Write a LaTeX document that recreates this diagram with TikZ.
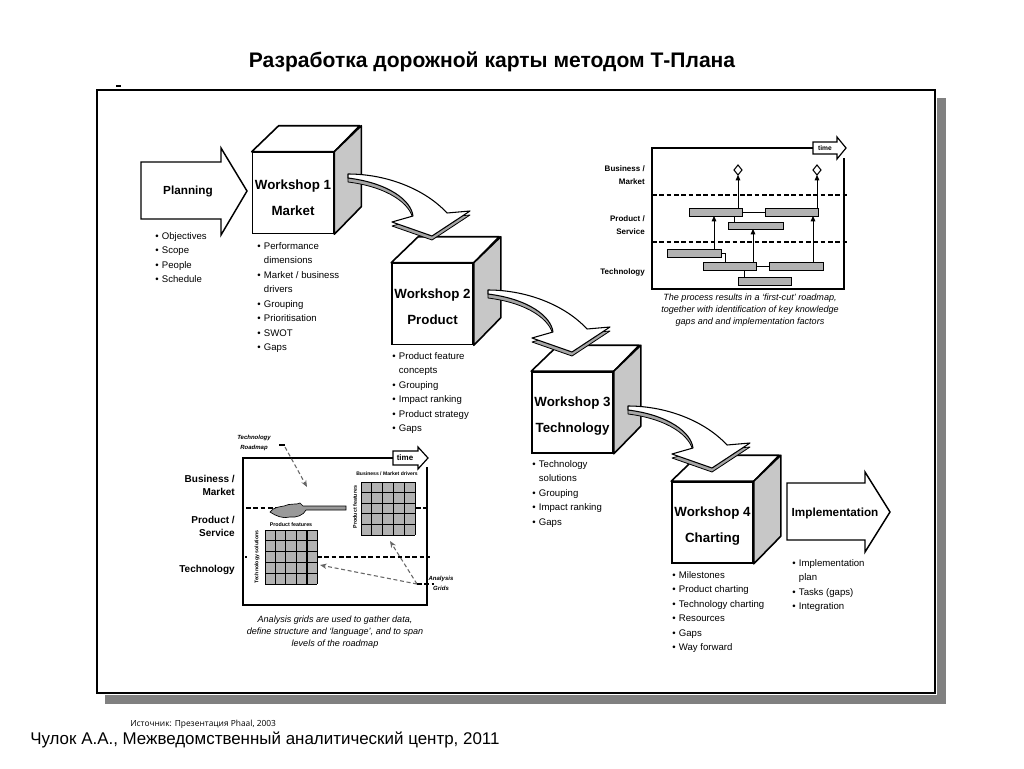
\documentclass[tikz,border=0pt]{standalone}
\usepackage{fontspec}
\setmainfont{Liberation Sans}
\newfontfamily\srcfont{Open Sans}
\usetikzlibrary{arrows.meta}
\colorlet{sidegray}{black!22}
\colorlet{bargray}{black!30}
\newcommand\bu{\makebox[5pt][l]{•}}
\newcommand\bc{\hspace*{5pt}}
\newcommand\cubesides[1]{%
  \filldraw[fill=white,cubeline] (#1.north west) -- ++(27,-26) -- ++(81,0) -- (#1.north east) -- cycle;
  \filldraw[fill=sidegray,cubeline] (#1.north east) -- ++(27,-26) -- ++(0,81) -- (#1.south east) -- cycle;}
\begin{document}
\begin{tikzpicture}[x=0.75pt,y=-0.75pt,
 face/.style={draw,fill=white,line width=1.2pt,minimum width=60.75pt,minimum height=60.75pt,inner sep=0pt},
 cubeline/.style={draw,line width=1.2pt,line join=round},
 wtext/.style={font=\fontsize{10}{19.5}\selectfont\bfseries,align=center,inner sep=0pt},
 blist/.style={anchor=north west,inner sep=0pt,align=left,font=\fontsize{7.2}{10.9}\selectfont},
 bigarrow/.style={draw,fill=white,line width=1.1pt,line join=miter},
 atext/.style={font=\fontsize{8.8}{10}\selectfont\bfseries,inner sep=0pt},
 rlabel/.style={anchor=east,align=right,inner sep=0pt},
 capt/.style={align=center,inner sep=0pt,font=\fontsize{6.8}{9}\selectfont\itshape},
 bar/.style={draw,fill=bargray,line width=0.6pt},
 rmdash/.style={line width=1.4pt,dash pattern=on 3.5pt off 2pt},
 rmarrow/.style={line width=0.7pt,-{Triangle[length=4pt,width=3.5pt]}},
 gline/.style={line width=0.6pt},
 dasharrow/.style={densely dashed,line width=0.8pt,black!60,-{Stealth[length=5pt,width=4pt]}},
 ribbon/.pic={
   \filldraw[fill=black!35,line width=0.6pt,line join=round,shift={(0,4)}] (0,-1) .. controls (40,-1) and (78,15) .. (99,38) -- (122,36) -- (84,61) -- (44,47) -- (65,41) .. controls (63,25) and (40,8) .. (0,3) -- cycle;
   \filldraw[fill=white,line width=0.8pt,line join=round] (0,-1) .. controls (40,-1) and (78,15) .. (99,38) -- (122,36) -- (84,61) -- (44,47) -- (65,41) .. controls (63,25) and (40,8) .. (0,3) -- cycle;
 }
]
\useasboundingbox (0,0) rectangle (1024,768);
\fill[white] (0,0) rectangle (1024,768);

% title
\node[font=\fontsize{15.8}{18}\selectfont\bfseries] (title) at (492,62) {Разработка дорожной карты методом Т-Плана};

% main frame with shadow
\fill[black!50] (937,98) rectangle (946,704);
\fill[black!50] (105,695) rectangle (946,704);
\draw[line width=1.6pt] (97,90) rectangle (935,693);
\draw[line width=1pt] (116,86) -- (121,86);

% planning arrow
\draw[bigarrow] (141,162) -- (221,162) -- (221,148) -- (247,191) -- (221,235) -- (221,219) -- (141,219) -- cycle;
\node[atext] (plan) at (188,191) {Planning};
\node[blist] (l0) at (155,232) {\bu Objectives\\\bu Scope\\\bu People\\\bu Schedule};

% cubes
\node[face] (w1) at (293,193) {};
\cubesides{w1}
\node[wtext] (w1t) at (293,198) {Workshop 1\\Market};
\node[blist] (l1) at (257,242) {\bu Performance\\\bc dimensions\\\bu Market / business\\\bc drivers\\\bu Grouping\\\bu Prioritisation\\\bu SWOT\\\bu Gaps};

\node[face] (w2) at (432.5,304) {};
\cubesides{w2}
\node[wtext] (w2t) at (432.5,307) {Workshop 2\\Product};
\node[blist] (l2) at (392,352) {\bu Product feature\\\bc concepts\\\bu Grouping\\\bu Impact ranking\\\bu Product strategy\\\bu Gaps};

\node[face] (w3) at (572.5,412.5) {};
\cubesides{w3}
\node[wtext] (w3t) at (572.5,416.5) {Workshop 3\\Technology};
\node[blist] (l3) at (532,460) {\bu Technology\\\bc solutions\\\bu Grouping\\\bu Impact ranking\\\bu Gaps};

\node[face] (w4) at (712.5,522.5) {};
\cubesides{w4}
\node[wtext] (w4t) at (712.5,526.5) {Workshop 4\\Charting};
\node[blist] (l4) at (672,571) {\bu Milestones\\\bu Product charting\\\bu Technology charting\\\bu Resources\\\bu Gaps\\\bu Way forward};

% implementation arrow
\draw[bigarrow] (787,483) -- (865,483) -- (865,472) -- (890,512) -- (865,552) -- (865,540) -- (787,540) -- cycle;
\node[atext] (impl) at (835,513) {Implementation};
\node[blist] (l5) at (792,559) {\bu Implementation\\\bc plan\\\bu Tasks (gaps)\\\bu Integration};

% ribbons between workshops
\coordinate (r1) at (348,175);
\coordinate (r2) at (488,291);
\coordinate (r3) at (628,407);
\pic at (r1) {ribbon};
\pic at (r2) {ribbon};
\pic at (r3) {ribbon};

% ---------- top-right roadmap panel ----------
\draw[line width=0.9pt] (813,148) -- (652,148) -- (652,289) -- (844,289) -- (844,158);
\filldraw[fill=white,line width=0.9pt,line join=miter] (813,142) -- (837,142) -- (837,137) -- (846,148) -- (837,159) -- (837,154) -- (813,154) -- cycle;
\node[font=\fontsize{5}{5}\selectfont\bfseries,inner sep=0pt] (t1) at (825,148) {time};
\node[rlabel,font=\fontsize{6}{9.75}\selectfont\bfseries] (bm1) at (645,175.5) {Business /\\Market};
\node[rlabel,font=\fontsize{6}{9.75}\selectfont\bfseries] (ps1) at (645,225) {Product /\\Service};
\node[rlabel,font=\fontsize{6}{9.75}\selectfont\bfseries] (te1) at (645,272) {Technology};
\draw[rmdash] (652,195) -- (848,195);
\draw[rmdash] (652,242) -- (848,242);
\draw[line width=0.6pt] (742,212) -- (765,212);
\draw[line width=0.6pt] (734,216) -- (734,222);
\draw[line width=0.6pt] (721,253) -- (725,253) -- (725,262);
\draw[line width=0.6pt] (756,266) -- (769,266);
\draw[line width=0.6pt] (744,270) -- (744,277);
\draw[bar] (689,208) rectangle (742,216);
\draw[bar] (765,208) rectangle (818,216);
\draw[bar] (728,222) rectangle (783,229);
\draw[bar] (667,249) rectangle (721,257);
\draw[bar] (703,262) rectangle (756,270);
\draw[bar] (769,262) rectangle (823,270);
\draw[bar] (738,277) rectangle (791,285);
\draw[rmarrow] (714,249) -- (714,216);
\draw[rmarrow] (753,262) -- (753,229);
\draw[rmarrow] (813,262) -- (813,216);
\draw[rmarrow] (738,208) -- (738,175);
\draw[rmarrow] (817,208) -- (817,175);
\filldraw[fill=white,line width=0.8pt] (738,165) -- (742,170) -- (738,175) -- (734,170) -- cycle;
\filldraw[fill=white,line width=0.8pt] (817,165) -- (821,170) -- (817,175) -- (813,170) -- cycle;
\node[capt] (c1) at (750,310) {The process results in a ‘first-cut’ roadmap,\\together with identification of key knowledge\\gaps and and implementation factors};

% ---------- bottom-left analysis grid panel ----------
\draw[line width=0.9pt] (393,458) -- (243,458) -- (243,605) -- (427,605) -- (427,467);
\filldraw[fill=white,line width=0.9pt,line join=miter] (393,451) -- (418,451) -- (418,447) -- (428,458) -- (418,469) -- (418,465) -- (393,465) -- cycle;
\node[font=\fontsize{6}{6}\selectfont\bfseries,inner sep=0pt] (t2) at (405,458) {time};
\node[rlabel,font=\fontsize{7.5}{9.75}\selectfont\bfseries] (bm2) at (235,485.5) {Business /\\Market};
\node[rlabel,font=\fontsize{7.5}{9.75}\selectfont\bfseries] (ps2) at (235,526.5) {Product /\\Service};
\node[rlabel,font=\fontsize{7.5}{9.75}\selectfont\bfseries] (te2) at (235,570) {Technology};
\draw[rmdash] (246,508) -- (282,508);
\draw[rmdash] (416,508) -- (430,508);
\draw[rmdash] (317,557) -- (430,557);
\draw[line width=1.4pt] (245,557) -- (247,557);
% cloud and bar
\filldraw[fill=black!40,line width=0.5pt] (270,512) .. controls (274,507) and (279,507) .. (284,506) .. controls (290,503) and (297,505) .. (300,503) -- (303,506) -- (346,506) -- (346,510) -- (306,510) .. controls (304,515) and (296,518) .. (290,517) .. controls (283,519) and (276,516) .. (270,512) -- cycle;
% grid 1
\fill[bargray] (361,482) rectangle (415,535);
\foreach \i in {0,...,5} {
  \draw[gline] ({361+\i*10.8},482) -- ({361+\i*10.8},535);
  \draw[gline] (361,{482+\i*10.6}) -- (415,{482+\i*10.6});
}
\node[font=\fontsize{3.8}{4}\selectfont\bfseries,inner sep=0pt] (g1t) at (387,474) {Business / Market drivers};
\node[rotate=90,font=\fontsize{4}{4}\selectfont\bfseries,inner sep=0pt] (g1s) at (355,507) {Product features};
% grid 2
\fill[bargray] (265,530) rectangle (317,584);
\foreach \i in {0,...,5} {
  \draw[gline] ({265+\i*10.4},530) -- ({265+\i*10.4},584);
  \draw[gline] (265,{530+\i*10.8}) -- (317,{530+\i*10.8});
}
\draw[line width=1.6pt] (306.6,530) -- (306.6,584);
\node[font=\fontsize{4}{4}\selectfont\bfseries,inner sep=0pt] (g2t) at (291,525) {Product features};
\node[rotate=90,font=\fontsize{3.9}{4}\selectfont\bfseries,inner sep=0pt] (g2s) at (257,557) {Technology solutions};
% annotations
\node[align=center,font=\fontsize{4.5}{8}\selectfont\bfseries\itshape,inner sep=0pt] (tr) at (254,443) {Technology\\Roadmap};
\node[align=center,font=\fontsize{4.5}{7.5}\selectfont\bfseries\itshape,inner sep=0pt] (ag) at (441,583) {Analysis\\Grids};
\draw[line width=1.2pt] (279,445) -- (285,445);
\draw[dasharrow] (285,447) -- (307,487);
\draw[dasharrow] (417,584) -- (390,541);
\draw[dasharrow] (417,584) -- (320,565);
\draw[rmdash] (417,584) -- (434,584);
\node[capt] (c2) at (335,632) {Analysis grids are used to gather data,\\define structure and ‘language’, and to span\\levels of the roadmap};

% source and author
\node[anchor=west,font=\srcfont\fontsize{6.3}{7}\selectfont,inner sep=0pt] (src) at (130,724) {Источник: Презентация Phaal, 2003};
\node[anchor=west,font=\fontsize{12.7}{14}\selectfont,inner sep=0pt] (auth) at (30,740) {Чулок А.А., Межведомственный аналитический центр, 2011};
\end{tikzpicture}
\end{document}
